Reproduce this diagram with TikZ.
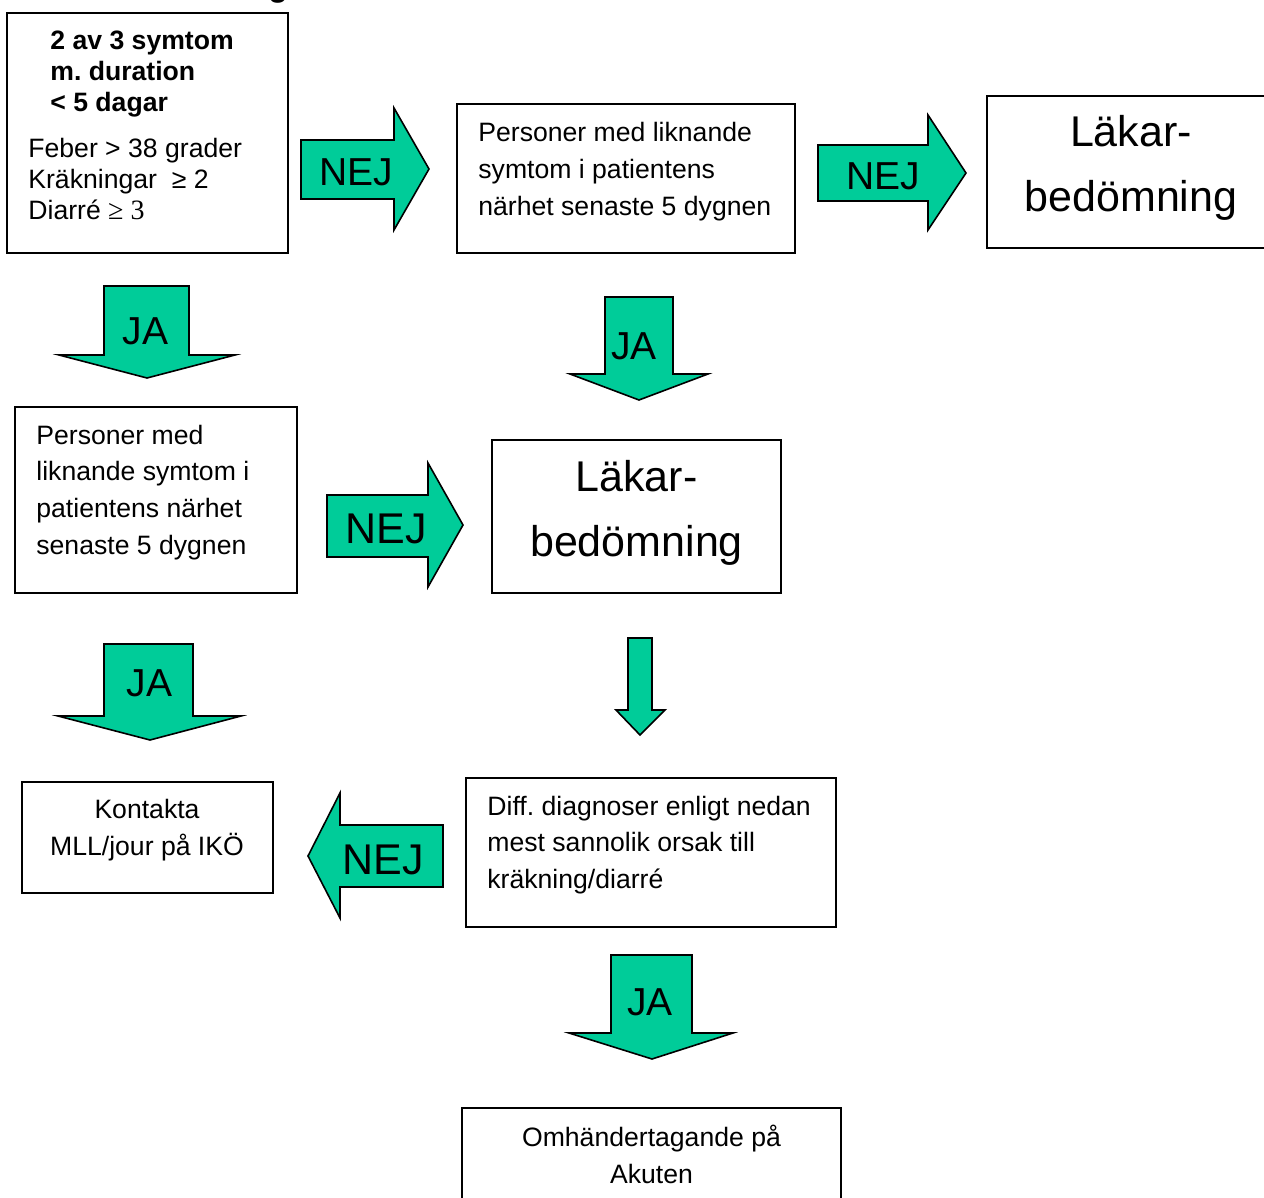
\documentclass[tikz,border=0pt]{standalone}
\usepackage{fontspec}
\setmainfont{Liberation Sans}
\newfontfamily\serifmath{Liberation Serif}
\frenchspacing

\definecolor{arrowgreen}{RGB}{0,204,153}

\begin{document}
\begin{tikzpicture}[x=0.5pt,y=-0.5pt,
			box/.style={draw,line width=1pt,inner sep=0pt},
			bigarrow/.style={draw,line width=0.8pt,fill=arrowgreen,line join=miter},
			arrowtext/.style={inner sep=0pt,font=\fontsize{19.5}{23}\selectfont},
			bigarrowtext/.style={inner sep=0pt,font=\fontsize{21.5}{25}\selectfont},
			bodytext/.style={inner sep=0pt,font=\fontsize{13.3}{18.4}\selectfont},
			bigtext/.style={inner sep=0pt,align=center,font=\fontsize{21.5}{32.5}\selectfont}]

		\useasboundingbox (0,0) rectangle (1264,1198);

		\node [inner sep=0pt, anchor=base west, font=\bfseries\fontsize{16}{19}\selectfont] (titel) at (268,-3) {g};

		\node [box, minimum width=140.5pt, minimum height=120pt] (symtom) at (147.5,133) {};
		\node [box, minimum width=169pt, minimum height=74.5pt] (narhet) at (626,178.5) {};
		\node [box, minimum width=144pt, minimum height=76pt] (lakare1) at (1131,172) {};
		\node [box, minimum width=141pt, minimum height=93pt] (narhet2) at (156,500) {};
		\node [box, minimum width=144.5pt, minimum height=76.5pt] (lakare2) at (636.5,516.5) {};
		\node [box, minimum width=125.5pt, minimum height=55.5pt] (kontakt) at (147.5,837.5) {};
		\node [box, minimum width=185pt, minimum height=74.5pt] (diff) at (651,852.5) {};
		\node [box, minimum width=189.5pt, minimum height=53.5pt] (akuten) at (651.5,1161.5) {};

		\node [bodytext, font=\bfseries\fontsize{13.3}{15.5}\selectfont, anchor=north west, align=left] (kravtext) at (50,30.5)
			{2 av 3 symtom\\m. duration\\< 5 dagar};
		\node [bodytext, font=\fontsize{13.3}{15.6}\selectfont, anchor=north west, align=left] (symtomtext) at (28,137.5)
			{Feber > 38 grader\\Kräkningar\ \ ≥ 2\\Diarré {\serifmath\fontsize{14}{15.6}\selectfont ≥ 3}};
		\node [bodytext, anchor=north west, align=left, font=\fontsize{13.3}{18.5}\selectfont] (narhettext) at (478,121.5)
			{Personer med liknande\\symtom i patientens\\närhet senaste 5 dygnen};
		\node [bigtext] (lakartext1) at (1131,168) {Läkar-\\bedömning};
		\node [bodytext, anchor=north west, align=left, font=\fontsize{13.3}{18.35}\selectfont] (narhettext2) at (36,424.5)
			{Personer med\\liknande symtom i\\patientens närhet\\senaste 5 dygnen};
		\node [bigtext] (lakartext2) at (636.5,513) {Läkar-\\bedömning};
		\node [bodytext, anchor=north, align=center, font=\fontsize{13.3}{18.5}\selectfont] (kontakttext) at (147,798.5)
			{Kontakta\\MLL/jour på IKÖ};
		\node [bodytext, anchor=north west, align=left, font=\fontsize{13.3}{18.3}\selectfont] (difftext) at (487,795.5)
			{Diff. diagnoser enligt nedan\\mest sannolik orsak till\\kräkning/diarré};
		\node [bodytext, anchor=north, align=center, font=\fontsize{13.3}{18.5}\selectfont] (akutentext) at (651.5,1124.5)
			{Omhändertagande på\\Akuten};

		\draw [bigarrow] (301,140) -- (394,140) -- (394,108) -- (429,169) -- (394,230) -- (394,199) -- (301,199) -- cycle;
		\node [arrowtext] (nej1) at (356,172) {NEJ};
		\draw [bigarrow] (818,145) -- (928,145) -- (928,115) -- (966,173) -- (928,230) -- (928,201) -- (818,201) -- cycle;
		\node [arrowtext] (nej2) at (883,176.5) {NEJ};
		\draw [bigarrow] (104,286) -- (189,286) -- (189,355) -- (235,355) -- (147,378) -- (59,355) -- (104,355) -- cycle;
		\node [arrowtext] (ja1) at (145.5,331.5) {JA};
		\draw [bigarrow] (605,297) -- (673,297) -- (673,374) -- (708,374) -- (639,400) -- (570,374) -- (605,374) -- cycle;
		\node [arrowtext] (ja2) at (634,346.5) {JA};
		\draw [bigarrow] (327,495) -- (428,495) -- (428,463) -- (463,525) -- (428,587) -- (428,557) -- (327,557) -- cycle;
		\node [bigarrowtext] (nej3) at (386,528.5) {NEJ};
		\draw [bigarrow] (104,644) -- (193,644) -- (193,716) -- (241,716) -- (150,740) -- (58,716) -- (104,716) -- cycle;
		\node [arrowtext] (ja3) at (149.5,683) {JA};
		\draw [bigarrow] (628,638) -- (652,638) -- (652,710) -- (665,710) -- (640,735) -- (616,710) -- (628,710) -- cycle;
		\draw [bigarrow] (443,825) -- (340,825) -- (340,793) -- (308,856) -- (340,918) -- (340,887) -- (443,887) -- cycle;
		\node [bigarrowtext] (nej4) at (383,859.5) {NEJ};
		\draw [bigarrow] (611,955) -- (692,955) -- (692,1033) -- (733,1033) -- (652,1059) -- (569,1033) -- (611,1033) -- cycle;
		\node [arrowtext] (ja4) at (650,1002.5) {JA};

		\end{tikzpicture}
\end{document}
